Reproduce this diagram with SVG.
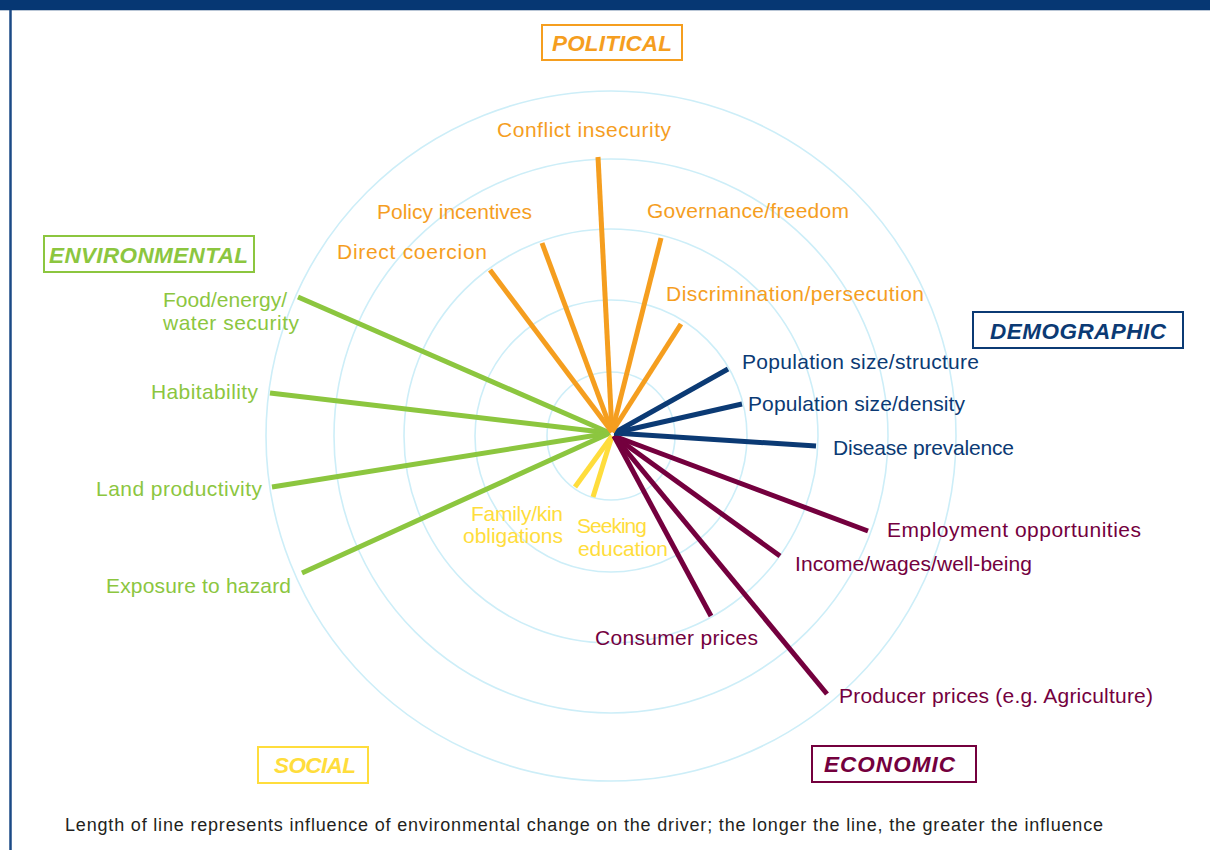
<svg xmlns="http://www.w3.org/2000/svg" width="1210" height="850" viewBox="0 0 1210 850">
<style>
.lbl{font-family:"Liberation Sans",Arial,sans-serif;font-size:21px;}
.cat{font-family:"Liberation Sans",Arial,sans-serif;font-size:22.5px;font-weight:bold;font-style:italic;}
.box{fill:#fff;stroke-width:2;}
.ring{fill:none;stroke:#CDEEF8;stroke-width:1.6;}
.sp{stroke-width:5;stroke-linecap:butt;fill:none;}
.pol{fill:#F59E1F;} .env{fill:#8CC63F;} .dem{fill:#0B3A74;} .soc{fill:#FFDD3C;} .eco{fill:#74003E;}
.spol{stroke:#F59E1F;} .senv{stroke:#8CC63F;} .sdem{stroke:#0B3A74;} .ssoc{stroke:#FFDD3C;} .seco{stroke:#74003E;}
</style>
<rect x="0" y="0" width="1210" height="850" fill="#fff"/>
<g id="frame">
<rect x="0" y="0" width="1210" height="10" fill="#063773"/>
<line x1="0" y1="10.5" x2="1210" y2="10.5" stroke="#B9C6D6" stroke-width="1"/>
<line x1="10.5" y1="10" x2="10.5" y2="850" stroke="#1B4A86" stroke-width="2.5"/>
</g>
<g id="rings">
<circle class="ring" cx="611" cy="436" r="64"/>
<circle class="ring" cx="611" cy="436" r="136"/>
<circle class="ring" cx="611" cy="436" r="207"/>
<circle class="ring" cx="611" cy="436" r="277"/>
<circle class="ring" cx="611" cy="436" r="345"/>
</g>
<g id="connectors">
<line class="sp senv" x1="610" y1="433" x2="298" y2="297"/>
<line class="sp senv" x1="610" y1="433" x2="270" y2="393"/>
<line class="sp senv" x1="610" y1="433" x2="272" y2="487"/>
<line class="sp senv" x1="610" y1="433" x2="302" y2="573"/>
<line class="sp ssoc" x1="612" y1="436" x2="575" y2="487"/>
<line class="sp ssoc" x1="612" y1="436" x2="593" y2="497"/>
<line class="sp seco" x1="614" y1="436" x2="868" y2="531"/>
<line class="sp seco" x1="614" y1="436" x2="780" y2="556"/>
<line class="sp seco" x1="614" y1="436" x2="711" y2="616"/>
<line class="sp seco" x1="614" y1="436" x2="827" y2="694"/>
<line class="sp sdem" x1="614" y1="433" x2="728" y2="369"/>
<line class="sp sdem" x1="614" y1="433" x2="742" y2="404"/>
<line class="sp sdem" x1="614" y1="433" x2="816" y2="446"/>
<line class="sp spol" x1="612" y1="432" x2="598" y2="157"/>
<line class="sp spol" x1="612" y1="432" x2="542" y2="243"/>
<line class="sp spol" x1="612" y1="432" x2="661" y2="238"/>
<line class="sp spol" x1="612" y1="432" x2="490" y2="270"/>
<line class="sp spol" x1="612" y1="432" x2="681" y2="324"/>
</g>
<g id="cat-political"><rect class="box" x="542" y="25" width="140" height="35" stroke="#F59E1F"/><text class="cat pol" x="552" y="51" textLength="120">POLITICAL</text></g>
<g id="cat-environmental"><rect class="box" x="44" y="236" width="210" height="36" stroke="#8CC63F"/><text class="cat env" x="49" y="263" textLength="199">ENVIRONMENTAL</text></g>
<g id="cat-demographic"><rect class="box" x="973" y="312" width="210" height="36" stroke="#0B3A74"/><text class="cat dem" x="990" y="339" textLength="176">DEMOGRAPHIC</text></g>
<g id="cat-social"><rect class="box" x="258" y="747" width="110" height="36" stroke="#FFDD3C"/><text class="cat soc" x="274" y="773" textLength="82">SOCIAL</text></g>
<g id="cat-economic"><rect class="box" x="812" y="746" width="164" height="36" stroke="#74003E"/><text class="cat eco" x="824" y="772" textLength="131">ECONOMIC</text></g>
<g id="conflict-insecurity"><text class="lbl pol" x="497" y="137" textLength="174">Conflict insecurity</text></g>
<g id="policy-incentives"><text class="lbl pol" x="377" y="219" textLength="155">Policy incentives</text></g>
<g id="governance-freedom"><text class="lbl pol" x="647" y="218" textLength="202">Governance/freedom</text></g>
<g id="direct-coercion"><text class="lbl pol" x="337" y="259" textLength="150">Direct coercion</text></g>
<g id="discrimination-persecution"><text class="lbl pol" x="666" y="301" textLength="258">Discrimination/persecution</text></g>
<g id="population-structure"><text class="lbl dem" x="742" y="369" textLength="237">Population size/structure</text></g>
<g id="population-density"><text class="lbl dem" x="748" y="411" textLength="217">Population size/density</text></g>
<g id="disease-prevalence"><text class="lbl dem" x="833" y="455" textLength="181">Disease prevalence</text></g>
<g id="employment-opportunities"><text class="lbl eco" x="887" y="537" textLength="254">Employment opportunities</text></g>
<g id="income-wages"><text class="lbl eco" x="795" y="571" textLength="237">Income/wages/well-being</text></g>
<g id="consumer-prices"><text class="lbl eco" x="595" y="645" textLength="163">Consumer prices</text></g>
<g id="producer-prices"><text class="lbl eco" x="839" y="703" textLength="314">Producer prices (e.g. Agriculture)</text></g>
<g id="food-energy-water"><text class="lbl env" x="163" y="307" textLength="124">Food/energy/</text><text class="lbl env" x="163" y="330" textLength="136">water security</text></g>
<g id="habitability"><text class="lbl env" x="151" y="399" textLength="107">Habitability</text></g>
<g id="land-productivity"><text class="lbl env" x="96" y="496" textLength="166">Land productivity</text></g>
<g id="exposure-hazard"><text class="lbl env" x="106" y="593" textLength="185">Exposure to hazard</text></g>
<g id="family-kin"><text class="lbl soc" x="471" y="521" textLength="92">Family/kin</text><text class="lbl soc" x="463" y="543" textLength="100">obligations</text></g>
<g id="seeking-education"><text class="lbl soc" x="577" y="533" textLength="70">Seeking</text><text class="lbl soc" x="578" y="556" textLength="90">education</text></g>
<g id="footer"><text x="65" y="831" font-family="Liberation Sans, Arial, sans-serif" font-size="18" fill="#231F20" textLength="1038">Length of line represents influence of environmental change on the driver; the longer the line, the greater the influence</text></g>
</svg>
